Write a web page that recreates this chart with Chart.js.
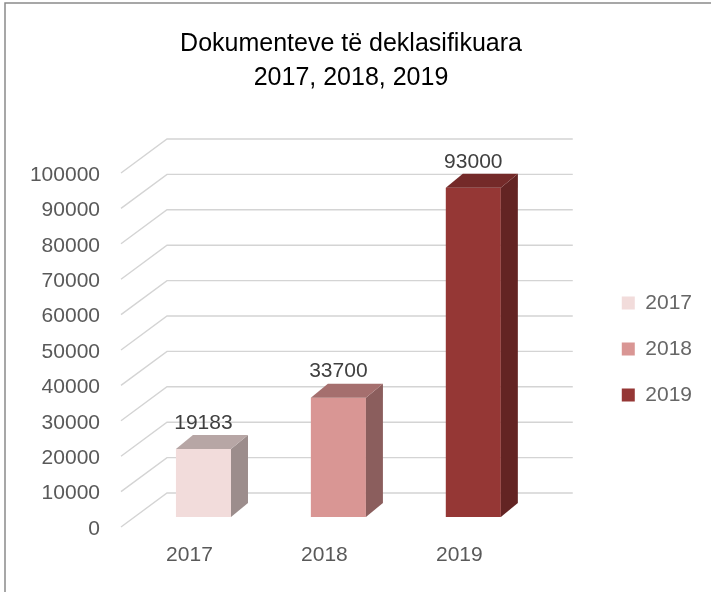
<!DOCTYPE html>
<html>
<head>
<meta charset="utf-8">
<title>Dokumenteve të deklasifikuara</title>
<script src="https://cdn.jsdelivr.net/npm/chart.js@4.4.0/dist/chart.umd.min.js"></script>
<style>
  html, body { margin: 0; padding: 0; background: #fff; }
</style>
</head>
<body>
<canvas id="myChart" width="711" height="592"></canvas>
<script>
// data
const categories = ['2017', '2018', '2019'];
const documents = [19183, 33700, 93000];
const yMax = 100000;
const yStep = 10000;

// colours of the 3d boxes: front, side, top
const frontColors = ['#F2DCDB', '#D99694', '#953735'];
const sideColors = ['#9C8D8C', '#8B5E5D', '#632423'];
const topColors = ['#B7A6A5', '#A56F6E', '#742A29'];

const FONT = '"Liberation Sans", Arial, sans-serif';
Chart.defaults.font.family = FONT;

// bar depth and wall depth, in pixels
const BAR_DX = 17, BAR_DY = -14;

const threeD = {
    id: 'threeD',
    beforeDraw(chart) {
        const ctx = chart.ctx;
        ctx.save();
        ctx.fillStyle = '#fff';
        ctx.fillRect(0, 0, chart.width, chart.height);
        ctx.strokeStyle = '#8a8a8a';
        ctx.lineWidth = 1.5;
        ctx.beginPath();
        ctx.moveTo(5, chart.height);
        ctx.lineTo(5, 3);
        ctx.lineTo(chart.width, 3);
        ctx.stroke();
        ctx.restore();
    },
    beforeDatasetsDraw(chart) {
        const ctx = chart.ctx;
        const ys = chart.scales.y;
        const ca = chart.chartArea;
        ctx.save();
        ctx.strokeStyle = '#d4d4d4';
        ctx.lineWidth = 1.4;
        for (let v = 0; v <= yMax; v += yStep) {
            const y = ys.getPixelForValue(v);
            ctx.beginPath();
            ctx.moveTo(ca.left - 15, y + 10);
            ctx.lineTo(ca.left + 31, y - 24);
            ctx.lineTo(ca.right + 32, y - 24);
            ctx.stroke();
        }
        ctx.restore();
    },
    afterDatasetsDraw(chart) {
        const ctx = chart.ctx;
        const meta = chart.getDatasetMeta(0);
        ctx.save();
        meta.data.forEach((bar, i) => {
            const p = bar.getProps(['x', 'y', 'base', 'width'], true);
            const l = p.x - p.width / 2, r = p.x + p.width / 2;
            // side
            ctx.fillStyle = sideColors[i];
            ctx.beginPath();
            ctx.moveTo(r, p.y);
            ctx.lineTo(r + BAR_DX, p.y + BAR_DY);
            ctx.lineTo(r + BAR_DX, p.base + BAR_DY);
            ctx.lineTo(r, p.base);
            ctx.closePath();
            ctx.fill();
            // top
            ctx.fillStyle = topColors[i];
            ctx.beginPath();
            ctx.moveTo(l, p.y);
            ctx.lineTo(l + BAR_DX, p.y + BAR_DY);
            ctx.lineTo(r + BAR_DX, p.y + BAR_DY);
            ctx.lineTo(r, p.y);
            ctx.closePath();
            ctx.fill();
            // value label
            ctx.fillStyle = '#404040';
            ctx.font = '21px ' + FONT;
            ctx.textAlign = 'center';
            ctx.textBaseline = 'middle';
            ctx.fillText(String(documents[i]), p.x, p.y - 26);
        });
        ctx.restore();
    }
};

const ctx = document.getElementById('myChart');
const myChart = new Chart(ctx, {
    type: 'bar',
    data: {
        labels: categories,
        datasets: [{
            label: 'Dokumente',
            data: documents,
            backgroundColor: frontColors,
            borderWidth: 0,
            categoryPercentage: 1,
            barPercentage: 0.408
        }]
    },
    plugins: [threeD],
    options: {
        responsive: false,
        animation: false,
        layout: { padding: { left: 0, right: 9, top: 0, bottom: 0 } },
        plugins: {
            title: {
                display: true,
                text: ['Dokumenteve të deklasifikuara', '2017, 2018, 2019'],
                color: '#000',
                font: { size: 25, weight: 'normal', lineHeight: 1.36 },
                padding: { top: 27, bottom: 68 }
            },
            legend: {
                position: 'right',
                fullSize: false,
                title: { display: true, text: '', font: { size: 10, lineHeight: 1.2 }, padding: { top: 6, bottom: 0 } },
                labels: {
                    boxWidth: 13,
                    boxHeight: 13,
                    padding: 25,
                    color: '#595959',
                    font: { size: 21 },
                    generateLabels: () => categories.map((c, i) => ({
                        text: c,
                        fillStyle: frontColors[i],
                        strokeStyle: frontColors[i],
                        lineWidth: 0,
                        hidden: false,
                        index: i
                    }))
                }
            },
            tooltip: { enabled: false }
        },
        scales: {
            x: {
                grid: { display: false, drawTicks: false },
                border: { display: false },
                ticks: { color: '#595959', font: { size: 21 }, padding: 26, labelOffset: -14 },
                afterFit(s) { s.height = 75; }
            },
            y: {
                min: 0,
                max: yMax,
                grid: { display: false, drawTicks: false },
                border: { display: false },
                ticks: {
                    stepSize: yStep,
                    color: '#595959',
                    font: { size: 21 },
                    padding: 36,
                    labelOffset: 12,
                    callback: v => String(v)
                },
                afterFit(s) { s.width = 136; }
            },
            gap: {
                type: 'linear',
                position: 'right',
                display: true,
                grid: { display: false, drawTicks: false },
                border: { display: false },
                ticks: { display: false },
                afterFit(s) { s.width = 56; }
            }
        }
    }
});
</script>
</body>
</html>
